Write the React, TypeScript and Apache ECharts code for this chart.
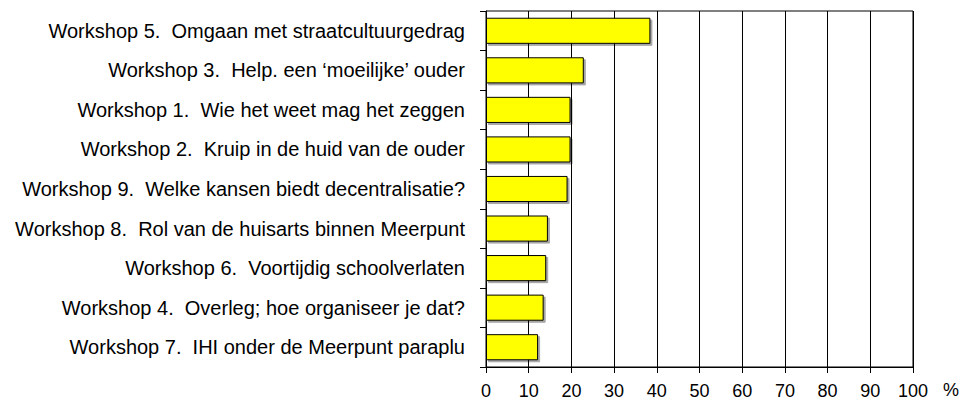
import React, { useEffect, useRef } from "react";
import * as echarts from "echarts";

const categories = [
  "Workshop 5.  Omgaan met straatcultuurgedrag",
  "Workshop 3.  Help. een \u2018moeilijke\u2019 ouder",
  "Workshop 1.  Wie het weet mag het zeggen",
  "Workshop 2.  Kruip in de huid van de ouder",
  "Workshop 9.  Welke kansen biedt decentralisatie?",
  "Workshop 8.  Rol van de huisarts binnen Meerpunt",
  "Workshop 6.  Voortijdig schoolverlaten",
  "Workshop 4.  Overleg; hoe organiseer je dat?",
  "Workshop 7.  IHI onder de Meerpunt paraplu",
];

const values = [38.5, 22.9, 19.8, 19.8, 19.1, 14.5, 14.1, 13.5, 12.2];

const xTicks = { min: 0, max: 100, interval: 10 };
const unitLabel = "%";

export default function App() {
  const ref = useRef<HTMLDivElement>(null);

  useEffect(() => {
    if (!ref.current) return;
    const chart = echarts.init(ref.current, null, { renderer: "svg" });
    const font = "Arial, 'Liberation Sans', sans-serif";
    chart.setOption({
      animation: false,
      backgroundColor: "#ffffff",
      grid: {
        left: 486,
        right: 47,
        top: 11,
        bottom: 34,
        show: true,
        borderColor: "#000",
        borderWidth: 1,
        backgroundColor: "transparent",
      },
      xAxis: {
        type: "value",
        min: xTicks.min,
        max: xTicks.max,
        interval: xTicks.interval,
        name: unitLabel,
        nameLocation: "end",
        nameGap: 30,
        nameTextStyle: {
          color: "#000",
          fontSize: 18,
          fontFamily: font,
          verticalAlign: "top",
          padding: [14, 0, 0, 0],
        },
        axisLine: { show: true, lineStyle: { color: "#000", width: 1 } },
        axisTick: { show: true, length: 6, lineStyle: { color: "#000" } },
        axisLabel: {
          color: "#000",
          fontSize: 18,
          fontFamily: font,
          margin: 15,
        },
        splitLine: { show: true, lineStyle: { color: "#000", width: 1 } },
      },
      yAxis: {
        type: "category",
        data: categories,
        inverse: true,
        axisLine: { show: true, lineStyle: { color: "#000", width: 1 } },
        axisTick: { show: true, length: 6, alignWithLabel: false, lineStyle: { color: "#000" } },
        axisLabel: {
          color: "#000",
          fontSize: 20,
          fontFamily: font,
          margin: 21,
        },
        splitLine: { show: false },
      },
      series: [
        {
          type: "bar",
          data: values,
          barWidth: "66%",
          itemStyle: {
            color: "#FFFF00",
            borderColor: "#000",
            borderWidth: 1,
            shadowColor: "rgba(0,0,0,0.35)",
            shadowOffsetX: 2,
            shadowOffsetY: 2,
            shadowBlur: 0,
          },
        },
      ],
    });
    return () => chart.dispose();
  }, []);

  return (
    <div
      ref={ref}
      style={{ position: "absolute", left: 0, top: 0, width: 962, height: 401 }}
    />
  );
}
